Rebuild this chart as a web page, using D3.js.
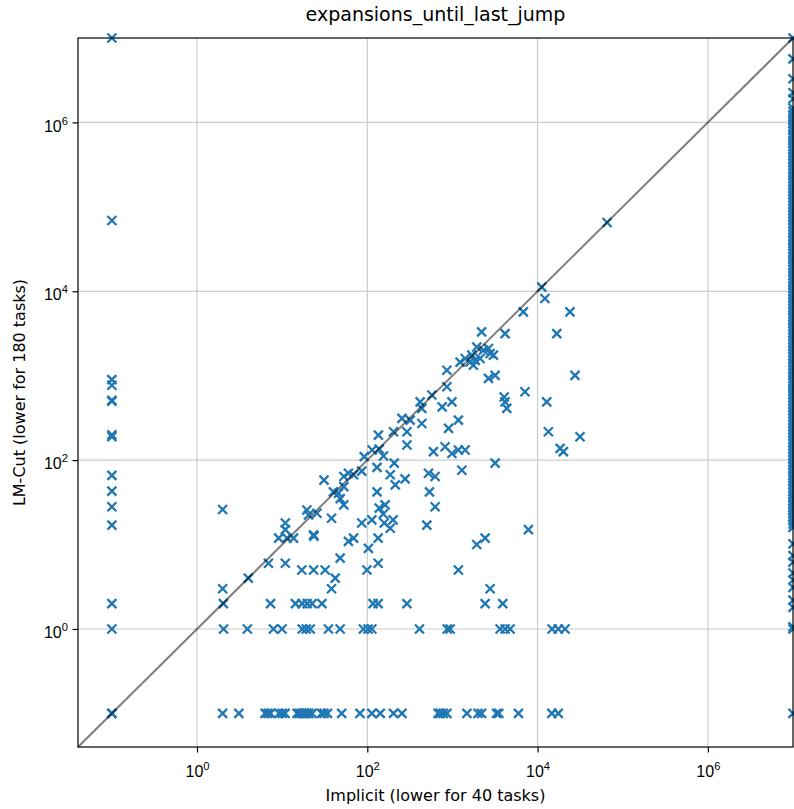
<!DOCTYPE html>
<html lang="en">
<head>
<meta charset="UTF-8">
<title>expansions_until_last_jump</title>
<script src="https://d3js.org/d3.v7.min.js"></script>
<style>
    body { margin: 0; background: white; }
    svg { display: block; font-family: "DejaVu Sans", sans-serif; }
</style>
</head>
<body>
<svg id="chart" width="794" height="809"></svg>
<script>
// axis limits, and where zero / missing values get drawn
const LOW = 0.04, HIGH = 1e7;
const ZERO = 0.1;
const MISSING = 1e7;

// tasks solved by both (Implicit, LM-Cut)
const implicitVals = [65500, 11200, 12200, 6800, 24000, 16800, 2200, 4150, 1930, 2310, 2650, 2770, 3030, 1690,
    1850, 2110, 1760, 1610, 1230, 1410, 860, 2650, 3170, 27500, 860, 573, 7100, 4050, 4150, 4350, 12800, 418,
    757, 985, 255, 319, 437, 900, 1175, 203, 292, 292, 598, 820, 985, 1175, 1410, 13400, 31500, 18400, 20100,
    3170, 1290, 523, 626, 186, 437, 135, 114, 138, 92, 155, 207, 130, 278, 31, 53, 60, 69, 86, 213, 40, 46, 53,
    48, 53, 130, 537, 626, 138, 162, 154, 158, 186, 201, 500, 86, 113, 2, 19.5, 20.4, 25.6, 38, 10.9, 10.9, 9.1,
    11.4, 13.6, 23.4, 23.6, 60, 69, 134, 103, 48, 6.9, 10.9, 134, 99, 17, 23.4, 32, 42, 38, 4, 2, 1930, 2420,
    7800, 1175, 2770];
const lmcutVals = [65200, 11200, 8200, 5700, 5700, 3150, 3300, 3150, 2190, 2000, 2100, 1830, 1750, 1750,
    1520, 1600, 1330, 1460, 1450, 1600, 1160, 930, 1010, 1010, 740, 590, 645, 560, 490, 410, 490, 490,
    428, 490, 312, 298, 272, 238, 298, 217, 217, 151, 126, 144, 120, 132, 132, 217, 189, 138, 126,
    92, 76, 70, 64, 67, 410, 198, 132, 135, 110, 112, 92, 82, 60, 58, 64, 70, 67, 74, 51, 42, 40.5, 48.5,
    35, 29.5, 42, 42, 28, 27, 29.5, 23, 18, 15.6, 19.6, 17, 18, 19.6, 26, 25.7, 22.4, 23.5, 20.5, 18, 15, 11.9,
    11.9, 11.9, 13, 12.6, 10.9, 11.9, 11.9, 9, 6.9, 6, 6, 6, 5, 5, 5, 5, 4, 3, 4, 3, 10, 11.9,
    15, 5, 3];

// LM-Cut value 0, 1 and 2: Implicit values
const zeroRowImplicit = [2.0, 3.1, 6.3, 6.8, 7.3, 9.2, 10, 10.8, 15, 16, 17, 17.8, 18.5, 19.5, 20.5, 22.4, 29, 31,
    34, 50, 82, 113, 142, 203, 255, 680, 720, 780, 860, 1480, 2000, 2200, 3300, 3500, 5960, 14700, 17500];
const oneRowImplicit = [2.05, 3.9, 7.9, 9.95, 17.2, 19.2, 21.4, 35, 48, 90, 102, 113, 410, 870, 940, 3630, 4160,
    4750, 14800, 17500, 21000];
const twoRowImplicit = [2.04, 7.3, 14.3, 17.2, 19.7, 22.5, 29.3, 117, 134, 292, 2420, 3900];

// Implicit value 0: LM-Cut values
const zeroColLmcut = [MISSING, 69000, 900, 770, 510, 500, 200, 190, 66, 43, 28, 17, 2, 1, ZERO, ZERO];

// Implicit missing: LM-Cut values
const missingColLmcut = [MISSING, 5660000, 3290000, 2250000, 1900000,
    1480000, 1350000, 1230000, 1130000, 1050000, 955000, 870000, 805000, 730000, 672000, 610000, 562000,
    518000, 470000, 432000, 398000, 360000, 332000, 306000, 278000, 252000, 233000, 215000, 196000, 178000,
    164000, 151000, 137000, 126000, 116000, 106000, 96500, 88600, 81500, 74000, 68100, 62800, 57100, 52000,
    47900, 44000, 40200, 36500, 33700, 31000, 28300, 25800, 23700, 21900, 19900, 18100, 16700, 15400, 14000,
    12700, 11700, 10800, 9840, 9000, 8250, 7600, 6920, 6300, 5810, 5350, 4870, 4440, 4090, 3760, 3430, 3120,
    2880, 2640, 2410, 2200, 2020, 1860, 1700, 1540, 1420, 1310, 1190, 1080, 1000, 920, 840, 765, 705, 648,
    590, 541, 498, 454, 414, 381, 350, 320, 291, 268, 246, 225, 205, 189, 174, 158, 144, 133, 122, 111, 102,
    93, 85.5, 78, 72, 65.7, 60, 55, 50.5, 46.5, 42.3, 38.5, 35.5, 32.5, 29.8, 27.2, 25, 23, 21, 19.2, 17.5,
    16, 10.2, 7.4, 6.2, 4.6, 3.8, 3.1, 2.2, 1.8, 1.06, 1, ZERO];

const tickVals = [1, 100, 1e4, 1e6];
const tickExps = ["0", "2", "4", "6"];

const margin = { top: 38, left: 78, width: 715, height: 709 };
const svg = d3.select("#chart");
const g = svg.append("g").attr("transform", `translate(${margin.left},${margin.top})`);

const x = d3.scaleLog().domain([LOW, HIGH]).range([0, margin.width]);
const y = d3.scaleLog().domain([LOW, HIGH]).range([margin.height, 0]);

// build point list
const points = [];
implicitVals.forEach((v, i) => points.push([v, lmcutVals[i]]));
zeroRowImplicit.forEach(v => points.push([v, ZERO]));
oneRowImplicit.forEach(v => points.push([v, 1]));
twoRowImplicit.forEach(v => points.push([v, 2]));
zeroColLmcut.forEach(v => points.push([ZERO, v]));
missingColLmcut.forEach(v => points.push([MISSING, v]));

// grid
g.append("g").selectAll("line").data(tickVals).join("line")
    .attr("x1", d => x(d)).attr("x2", d => x(d))
    .attr("y1", 0).attr("y2", margin.height)
    .attr("stroke", "#cbcbcb").attr("stroke-width", 1.2);
g.append("g").selectAll("line").data(tickVals).join("line")
    .attr("y1", d => y(d)).attr("y2", d => y(d))
    .attr("x1", 0).attr("x2", margin.width)
    .attr("stroke", "#cbcbcb").attr("stroke-width", 1.2);

// axes (ticks only, labels drawn by hand with superscripts)
const xAxis = g.append("g").attr("transform", `translate(0,${margin.height})`)
    .call(d3.axisBottom(x).tickValues(tickVals).tickSize(5.5).tickFormat(""));
const yAxis = g.append("g")
    .call(d3.axisLeft(y).tickValues(tickVals).tickSize(5.5).tickFormat(""));
[xAxis, yAxis].forEach(a => {
    a.select(".domain").remove();
    a.selectAll(".tick line").attr("stroke", "#000").attr("stroke-width", 1.2);
});

xAxis.selectAll(".tick").each(function(d, i) {
    const t = d3.select(this).append("text")
        .attr("y", 29.5).attr("fill", "#000").attr("text-anchor", "middle")
        .style("font-size", "16px");
    t.append("tspan").text("10");
    t.append("tspan").attr("dy", -7).style("font-size", "11.2px").text(tickExps[i]);
});
yAxis.selectAll(".tick").each(function(d, i) {
    const t = d3.select(this).append("text")
        .attr("x", -10).attr("y", 8.7).attr("fill", "#000").attr("text-anchor", "end")
        .style("font-size", "16px");
    t.append("tspan").text("10");
    t.append("tspan").attr("dy", -7).style("font-size", "11.2px").text(tickExps[i]);
});

// markers
const h = 4.5;
g.append("g").selectAll("path").data(points).join("path")
    .attr("transform", d => `translate(${x(d[0])},${y(d[1])})`)
    .attr("d", `M${-h},${-h}L${h},${h}M${-h},${h}L${h},${-h}`)
    .attr("stroke", "#1f77b4").attr("stroke-width", 2.3).attr("fill", "none");

// diagonal
g.append("line")
    .attr("x1", x(LOW)).attr("y1", y(LOW)).attr("x2", x(HIGH)).attr("y2", y(HIGH))
    .attr("stroke", "#000").attr("stroke-opacity", 0.5).attr("stroke-width", 2);

// frame
g.append("rect").attr("width", margin.width).attr("height", margin.height)
    .attr("fill", "none").attr("stroke", "#000").attr("stroke-width", 1.2);

// labels
svg.append("text").attr("x", margin.left + margin.width / 2).attr("y", 20.5)
    .attr("text-anchor", "middle").style("font-size", "19px").text("expansions_until_last_jump");
svg.append("text").attr("x", margin.left + margin.width / 2).attr("y", 801)
    .attr("text-anchor", "middle").style("font-size", "16px").text("Implicit (lower for 40 tasks)");
svg.append("text")
    .attr("transform", `translate(25,${margin.top + margin.height / 2}) rotate(-90)`)
    .attr("text-anchor", "middle").style("font-size", "16px").text("LM-Cut (lower for 180 tasks)");
</script>
</body>
</html>
